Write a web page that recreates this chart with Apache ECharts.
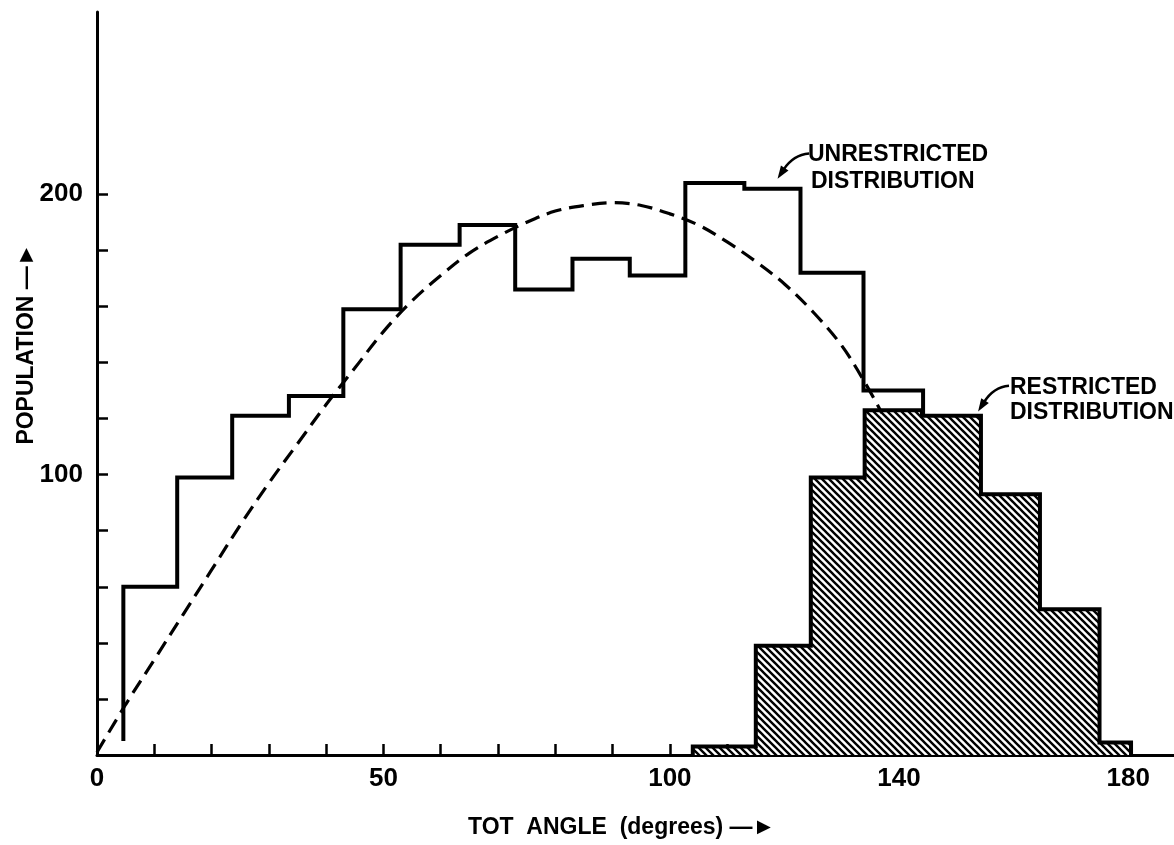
<!DOCTYPE html>
<html>
<head>
<meta charset="utf-8">
<script src="https://cdn.jsdelivr.net/npm/echarts@6/dist/echarts.min.js"></script>
<style>
  html, body { margin: 0; padding: 0; background: #ffffff; }
  #chart { width: 1174px; height: 845px; }
</style>
</head>
<body>
<div id="chart"></div>
<script>
// ---- data ----
// Unrestricted histogram: bin edges (degrees) and populations
const unrestrictedEdges = [4.6, 14, 23.6, 33.5, 43, 53, 63.3, 73, 83, 93, 102.7, 113, 122.8, 133.8, 144.2];
const unrestrictedCounts = [60, 99, 121, 128, 159, 182, 189, 166, 177, 171, 204, 202, 172, 130];
const unrestrictedStartLevel = 5;   // left vertical stops just above the axis
const unrestrictedEndLevel = 121;   // right end meets the restricted histogram

// Restricted histogram (hatched)
const restrictedEdges = [104, 115, 124.6, 134, 144, 154.3, 164.6, 175, 180.5];
const restrictedCounts = [3, 39, 99, 123, 121, 93, 52, 4.5];

// Dashed theoretical curve
const curveAngles = [0, 5, 10, 15, 20, 25, 30, 35, 40, 45, 50, 55, 60, 65, 70, 75, 80, 85, 90, 95, 100, 105, 110, 115, 120, 125, 130, 134, 137];
const curvePopulation = [1, 18, 34, 50, 66, 82, 97, 111, 125, 138, 151, 162, 171, 179, 185, 190, 194, 196, 197, 196, 193, 189, 183, 176, 168, 158, 146, 133, 122];

// Axis ticks and labels
const xTickValues = [10, 20, 30, 40, 50, 60, 70, 80, 90, 100, 110, 120, 130, 140, 150, 160, 170, 180];
const xLabelValues = [0, 50, 100, 140, 180];
const yTickValues = [20, 40, 60, 80, 100, 120, 140, 160, 180, 200];
const yLabelValues = [100, 200];

// Annotation arrows: [start, tip] in data coordinates
const unrestrictedArrow = [[124.3, 214.5], [118.8, 205.5]];
const restrictedArrow = [[159.2, 131.7], [153.8, 122.5]];

// ---- helpers ----
function stepPoints(edges, counts, startLevel, endLevel) {
  const pts = [[edges[0], startLevel]];
  for (let i = 0; i < counts.length; i++) pts.push([edges[i], counts[i]]);
  pts.push([edges[edges.length - 1], endLevel]);
  return pts;
}
function hatchPattern() {
  const p = 7;
  const c = document.createElement('canvas');
  c.width = p; c.height = p;
  const g = c.getContext('2d');
  g.fillStyle = '#ffffff';
  g.fillRect(0, 0, p, p);
  g.strokeStyle = '#000000';
  g.lineWidth = 2.4;
  g.lineCap = 'square';
  [-p, 0, p].forEach(function (k) {
    g.beginPath();
    g.moveTo(-1 + k, -1);
    g.lineTo(p + 1 + k, p + 1);
    g.stroke();
  });
  return { image: c, repeat: 'repeat' };
}

const FONT = '"Liberation Sans", Arial, "DejaVu Sans", sans-serif';
const chart = echarts.init(document.getElementById('chart'), null, { renderer: 'canvas' });

chart.setOption({
  animation: false,
  backgroundColor: '#ffffff',
  grid: { left: 97, right: 0, top: 12, bottom: 90, containLabel: false },
  xAxis: {
    type: 'value', min: 0, max: 188,
    splitLine: { show: false },
    axisLine: { show: true, onZero: false, lineStyle: { color: '#000', width: 3 } },
    axisTick: { show: true, inside: true, length: 11, customValues: xTickValues, lineStyle: { color: '#000', width: 2.5 } },
    axisLabel: { show: true, customValues: xLabelValues, margin: 11, color: '#000',
      fontSize: 26, fontWeight: 'bold', fontFamily: FONT }
  },
  yAxis: {
    type: 'value', min: 0, max: 265,
    splitLine: { show: false },
    axisLine: { show: true, onZero: false, lineStyle: { color: '#000', width: 3 } },
    axisTick: { show: true, inside: true, length: 11, customValues: yTickValues, lineStyle: { color: '#000', width: 2.5 } },
    axisLabel: { show: true, customValues: yLabelValues, margin: 14, color: '#000',
      fontSize: 26, fontWeight: 'bold', fontFamily: FONT }
  },
  series: [
    {
      name: 'Restricted distribution',
      type: 'line', step: 'end', symbol: 'none', z: 2,
      data: stepPoints(restrictedEdges, restrictedCounts, 0, 0),
      lineStyle: { color: '#000', width: 4, join: 'miter' },
      areaStyle: { color: hatchPattern(), opacity: 1 }
    },
    {
      name: 'Unrestricted distribution',
      type: 'line', step: 'end', symbol: 'none', z: 3,
      data: stepPoints(unrestrictedEdges, unrestrictedCounts, unrestrictedStartLevel, unrestrictedEndLevel),
      lineStyle: { color: '#000', width: 4, join: 'miter' }
    },
    {
      name: 'Theoretical',
      type: 'line', smooth: 0.35, symbol: 'none', z: 4,
      data: curveAngles.map(function (a, i) { return [a, curvePopulation[i]]; }),
      lineStyle: { color: '#000', width: 3.2, type: [15, 8] }
    }
  ]
});

// ---- annotations: texts and curved arrows (arrow ends given in data coordinates) ----
function arrowGraphics(arrow) {
  const s = chart.convertToPixel({ gridIndex: 0 }, arrow[0]);
  const t = chart.convertToPixel({ gridIndex: 0 }, arrow[1]);
  const cp = [t[0] + 0.5 * (s[0] - t[0]), s[1] + 0.05 * (t[1] - s[1])];
  let dx = t[0] - cp[0], dy = t[1] - cp[1];
  const len = Math.sqrt(dx * dx + dy * dy); dx /= len; dy /= len;
  const L = 13, W = 4.5;
  const bx = t[0] - dx * L, by = t[1] - dy * L;
  return [
    { type: 'bezierCurve', z: 10, shape: { x1: s[0], y1: s[1], x2: bx + dx * 2, y2: by + dy * 2, cpx1: cp[0], cpy1: cp[1] },
      style: { stroke: '#000', lineWidth: 2.5, fill: null } },
    { type: 'polygon', z: 10, shape: { points: [[t[0], t[1]], [bx - dy * W, by + dx * W], [bx + dy * W, by - dx * W]] },
      style: { fill: '#000' } }
  ];
}
const textStyle = function (txt) {
  return { text: txt, fill: '#000', font: 'bold 23px ' + FONT, align: 'left', verticalAlign: 'middle' };
};
chart.setOption({
  graphic: [
    { type: 'text', x: 808, y: 155, style: textStyle('UNRESTRICTED') },
    { type: 'text', x: 811, y: 182, style: textStyle('DISTRIBUTION') },
    { type: 'text', x: 1010, y: 388, style: textStyle('RESTRICTED') },
    { type: 'text', x: 1010, y: 413, style: textStyle('DISTRIBUTION') },
    { type: 'text', x: 468, y: 828, style: textStyle('TOT  ANGLE  (degrees) —►') },
    { type: 'text', x: 27, y: 344, rotation: Math.PI / 2,
      style: { text: 'POPULATION —►', fill: '#000', font: 'bold 23px ' + FONT, align: 'center', verticalAlign: 'middle' } }
  ].concat(arrowGraphics(unrestrictedArrow), arrowGraphics(restrictedArrow))
});
</script>
</body>
</html>
